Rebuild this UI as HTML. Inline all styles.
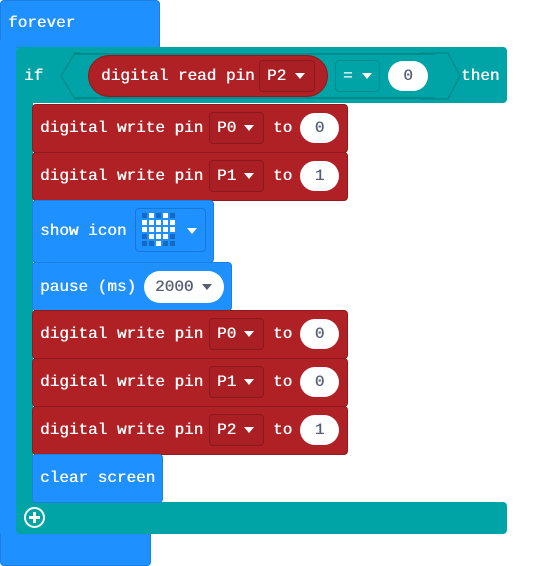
<!DOCTYPE html>
<html><head><meta charset="utf-8"><style>
body{margin:0;width:559px;height:566px;background:#fff;position:relative;overflow:hidden;font-family:"Liberation Mono",monospace;font-size:16px;color:#fff}
div{position:absolute;box-sizing:border-box}
.t{white-space:pre;line-height:20px;text-shadow:0.4px 0 0 currentColor}
.blue{background:#1E90FF;border:1px solid #1a7fe0}
.teal{background:#00A4A6}
.red{background:#B02126;border:1px solid #8e1a1e;border-radius:4px}
.dd{border:1px solid #8a191c;border-radius:4px;background:#AA1F23}
.ov{background:#fff;border-radius:16px;color:#575E75;text-align:center}
.tri{width:0;height:0;border-left:5px solid transparent;border-right:5px solid transparent;border-top:6px solid #fff}
</style></head><body>
<div class="blue" style="left:0;top:0;width:160px;height:48px;border-radius:4px 4px 0 0"></div>
<div class="t" style="left:8px;top:13px">forever</div>
<div style="left:0;top:40px;width:17px;height:500px;background:#1E90FF"></div>
<div class="blue" style="left:0;top:533px;width:151px;height:33px;border-radius:0 0 4px 4px;border-top:none"></div>
<div class="teal" style="left:16px;top:47px;width:491px;height:56px;border-radius:4px"></div>
<div class="teal" style="left:16px;top:90px;width:17px;height:420px"></div>
<div class="teal" style="left:16px;top:502px;width:491px;height:32px;border-radius:0 4px 4px 4px"></div>
<div class="t" style="left:24px;top:66px">if</div>
<svg style="position:absolute;left:60px;top:52px" width="120" height="48"><path d="M20 1 L15 1 L1 24 L15 47 L20 47" fill="none" stroke="#008c8e" stroke-width="1.5"/></svg>
<svg style="position:absolute;left:420px;top:52px" width="50" height="48"><path d="M0 1 L28 1 L40 24 L28 47 L0 47" fill="none" stroke="#008c8e" stroke-width="1.5"/></svg>
<div style="left:75px;top:53px;width:360px;height:2px;background:#008c8e"></div>
<div style="left:75px;top:97px;width:360px;height:2px;background:#008c8e"></div>
<div style="left:88px;top:55px;width:240px;height:42px;border-radius:21px;background:#B02126;border:1px solid #8e1a1e"></div>
<div class="t" style="left:101px;top:66px">digital read pin</div>
<div class="dd" style="left:259px;top:60px;width:56px;height:32px"></div>
<div class="t" style="left:267px;top:66px">P2</div>
<div class="tri" style="left:295px;top:73px"></div>
<div style="left:335px;top:60px;width:45px;height:32px;border:1px solid #008c8e;border-radius:4px"></div>
<div class="t" style="left:343px;top:66px">=</div>
<div class="tri" style="left:362px;top:73px"></div>
<div class="ov" style="left:388px;top:61px;width:40px;height:30px"><span class="t" style="position:absolute;left:0;right:0;top:5px;color:#575E75">0</span></div>
<div class="t" style="left:461px;top:66px">then</div>
<div class="red" style="left:32px;top:104px;width:316px;height:49px"></div>
<div class="red" style="left:32px;top:152px;width:316px;height:49px"></div>
<div class="blue" style="left:32px;top:200px;width:182px;height:63px;border-radius:4px"></div>
<div class="blue" style="left:32px;top:262px;width:200px;height:49px;border-radius:4px"></div>
<div class="red" style="left:32px;top:310px;width:316px;height:49px"></div>
<div class="red" style="left:32px;top:358px;width:316px;height:49px"></div>
<div class="red" style="left:32px;top:406px;width:316px;height:49px"></div>
<div class="blue" style="left:32px;top:454px;width:131px;height:49px;border-radius:4px"></div>

<div class="t" style="left:40px;top:118px">digital write pin</div>
<div class="dd" style="left:209px;top:112px;width:55px;height:32px"></div><div class="t" style="left:217px;top:118px">P0</div><div class="tri" style="left:244px;top:125px"></div>
<div class="t" style="left:273px;top:118px">to</div>
<div class="ov" style="left:300px;top:113px;width:39px;height:30px"><span class="t" style="position:absolute;left:0;right:0;top:5px;color:#575E75">0</span></div>

<div class="t" style="left:40px;top:166px">digital write pin</div>
<div class="dd" style="left:209px;top:160px;width:55px;height:32px"></div><div class="t" style="left:217px;top:166px">P1</div><div class="tri" style="left:244px;top:173px"></div>
<div class="t" style="left:273px;top:166px">to</div>
<div class="ov" style="left:300px;top:161px;width:39px;height:30px"><span class="t" style="position:absolute;left:0;right:0;top:5px;color:#575E75">1</span></div>

<div class="t" style="left:40px;top:221px">show icon</div>
<div style="left:135px;top:208px;width:71px;height:44px;border:1px solid #1878d8;border-radius:4px"></div>
<svg style="position:absolute;left:142px;top:213px" width="34" height="34">
<g fill="#1569c4">
<rect x="0" y="0" width="5" height="5"/><rect x="14" y="0" width="5" height="5"/><rect x="28" y="0" width="5" height="5"/>
<rect x="0" y="21" width="5" height="5"/><rect x="28" y="21" width="5" height="5"/>
<rect x="0" y="28" width="5" height="5"/><rect x="7" y="28" width="5" height="5"/><rect x="21" y="28" width="5" height="5"/><rect x="28" y="28" width="5" height="5"/></g>
<g fill="#fff">
<rect x="7" y="0" width="5" height="5"/><rect x="21" y="0" width="5" height="5"/>
<rect x="0" y="7" width="5" height="5"/><rect x="7" y="7" width="5" height="5"/><rect x="14" y="7" width="5" height="5"/><rect x="21" y="7" width="5" height="5"/><rect x="28" y="7" width="5" height="5"/>
<rect x="0" y="14" width="5" height="5"/><rect x="7" y="14" width="5" height="5"/><rect x="14" y="14" width="5" height="5"/><rect x="21" y="14" width="5" height="5"/><rect x="28" y="14" width="5" height="5"/>
<rect x="7" y="21" width="5" height="5"/><rect x="14" y="21" width="5" height="5"/><rect x="21" y="21" width="5" height="5"/>
<rect x="14" y="28" width="5" height="5"/></g></svg>
<div class="tri" style="left:187px;top:228px"></div>

<div class="t" style="left:40px;top:277px">pause (ms)</div>
<div class="ov" style="left:144px;top:271px;width:80px;height:32px"></div>
<div class="t" style="left:155px;top:277px;color:#575E75">2000</div>
<div class="tri" style="left:202px;top:284px;border-top-color:#575E75"></div>

<div class="t" style="left:40px;top:324px">digital write pin</div>
<div class="dd" style="left:209px;top:318px;width:55px;height:32px"></div><div class="t" style="left:217px;top:324px">P0</div><div class="tri" style="left:244px;top:331px"></div>
<div class="t" style="left:273px;top:324px">to</div>
<div class="ov" style="left:300px;top:319px;width:39px;height:30px"><span class="t" style="position:absolute;left:0;right:0;top:5px;color:#575E75">0</span></div>

<div class="t" style="left:40px;top:372px">digital write pin</div>
<div class="dd" style="left:209px;top:366px;width:55px;height:32px"></div><div class="t" style="left:217px;top:372px">P1</div><div class="tri" style="left:244px;top:379px"></div>
<div class="t" style="left:273px;top:372px">to</div>
<div class="ov" style="left:300px;top:367px;width:39px;height:30px"><span class="t" style="position:absolute;left:0;right:0;top:5px;color:#575E75">0</span></div>

<div class="t" style="left:40px;top:420px">digital write pin</div>
<div class="dd" style="left:209px;top:414px;width:55px;height:32px"></div><div class="t" style="left:217px;top:420px">P2</div><div class="tri" style="left:244px;top:427px"></div>
<div class="t" style="left:273px;top:420px">to</div>
<div class="ov" style="left:300px;top:415px;width:39px;height:30px"><span class="t" style="position:absolute;left:0;right:0;top:5px;color:#575E75">1</span></div>

<div class="t" style="left:40px;top:468px">clear screen</div>
<div style="left:24px;top:507px;width:21px;height:21px;border:2px solid #fff;border-radius:50%"></div>
<div style="left:29px;top:516px;width:11px;height:3px;background:#fff"></div>
<div style="left:33px;top:512px;width:3px;height:11px;background:#fff"></div>
</body></html>
